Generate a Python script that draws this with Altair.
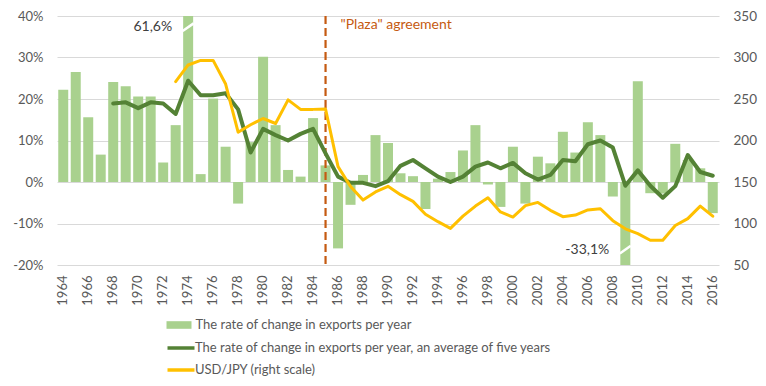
import altair as alt
import pandas as pd

# ---------------- data ----------------
years = list(range(1964, 2017))
export_change = [22.2, 26.5, 15.6, 6.6, 24.1, 23.1, 20.6, 20.6, 4.7, 13.7,
                 61.6, 1.9, 20.1, 8.5, -5.2, 9.6, 30.2, 13.7, 2.9, 1.3,
                 15.4, 4.0, -16.0, -5.5, 1.7, 11.3, 9.4, 2.1, 1.4, -6.5,
                 0.8, 2.4, 7.6, 13.7, -0.6, -6.0, 8.5, -5.2, 6.1, 4.5,
                 12.1, 7.1, 14.4, 11.3, -3.5, -33.1, 24.3, -2.7, -2.8, 9.2,
                 5.3, 3.3, -7.5]

avg_years = list(range(1968, 2017))
avg5 = [18.9, 19.2, 17.8, 19.2, 18.9, 16.4, 24.4, 20.9, 20.9, 21.4,
        17.5, 7.1, 12.8, 11.3, 10.0, 11.6, 12.8, 6.9, 1.3, -0.2,
        -0.2, -1.0, 0.2, 3.9, 5.3, 3.3, 1.3, 0.0, 1.3, 3.7,
        4.7, 3.3, 4.6, 2.1, 0.6, 1.7, 5.3, 5.0, 9.1, 10.0,
        8.3, -0.9, 2.8, -0.9, -3.8, -1.0, 6.5, 2.4, 1.5]

fx_years = list(range(1973, 2017))
usdjpy = [271.0, 291.0, 296.5, 296.5, 268.0, 210.0, 219.0, 226.5, 220.5, 249.0,
          237.5, 237.5, 238.0, 168.5, 144.6, 128.2, 138.0, 144.8, 134.7, 126.7,
          111.2, 102.2, 94.1, 108.8, 121.0, 130.9, 113.9, 107.8, 121.5, 125.4,
          115.9, 108.2, 110.2, 116.3, 117.8, 103.4, 93.6, 87.8, 79.8, 79.8,
          97.6, 105.9, 121.0, 108.8]

bar_label = "The rate of change in exports per year"
avg_label = "The rate of change in exports per year, an average of five years"
fx_label = "USD/JPY (right scale)"

left_ticks = [-20, -10, 0, 10, 20, 30, 40]
right_ticks = [50, 100, 150, 200, 250, 300, 350]

# annotations
break_years = [1974, 2009]
break_pos = [37.3, -16.3]
break_text = ["61,6%", "-33,1%"]
plaza_year = [1985]
plaza_top = [40]
plaza_bottom = [-20]
plaza_text_pos = [37.8]
plaza_text = ['"Plaza" agreement']

# ---------------- styling ----------------
FONT = "Lato"
GREY = "#595959"
BAR_C = "#A9D18E"
AVG_C = "#548235"
FX_C = "#FFC000"
PLAZA_C = "#C55A11"

df_bar = pd.DataFrame({"year": years, "value": export_change, "series": bar_label})
df_avg = pd.DataFrame({"year": avg_years, "value": avg5, "series": avg_label})
df_fx = pd.DataFrame({"year": fx_years, "value": usdjpy, "series": fx_label})
df_break = pd.DataFrame({"year": break_years, "value": break_pos, "text": break_text})
df_plaza = pd.DataFrame({"year": plaza_year, "value": plaza_top, "bottom": plaza_bottom,
                         "tpos": plaza_text_pos, "text": plaza_text})

x_enc = alt.X("year:O",
              scale=alt.Scale(domain=years, paddingInner=0.2, paddingOuter=0.1),
              axis=alt.Axis(values=years[::2], labelAngle=-90, labelAlign="right",
                            labelBaseline="middle", labelPadding=10, ticks=False,
                            domain=False, grid=False, title=None, labelFont=FONT,
                            labelFontSize=13, labelColor=GREY))

left_scale = alt.Scale(domain=[-20, 40], nice=False, zero=False)
left_axis = alt.Axis(values=left_ticks, labelExpr="datum.value + '%'", grid=True,
                     gridColor="#D9D9D9", gridWidth=1, domain=False, ticks=False,
                     labelPadding=14, title=None, orient="left", labelFont=FONT,
                     labelFontSize=13, labelColor=GREY)


def yl(field="value"):
    return alt.Y(f"{field}:Q", scale=left_scale, axis=left_axis)


stroke_scale = alt.Scale(domain=[avg_label, fx_label], range=[AVG_C, FX_C])
stroke_legend = alt.Legend(orient="none", legendX=112, legendY=320, title=None,
                           symbolType="M-1.35,0H1.35", symbolSize=400, symbolStrokeWidth=3.5,
                           rowPadding=3, labelOffset=2, padding=0, labelFont=FONT,
                           labelFontSize=13, labelColor=GREY, labelLimit=600)

bars = alt.Chart(df_bar).mark_bar(clip=True).encode(
    x=x_enc,
    y=yl(),
    fill=alt.Fill("series:N", scale=alt.Scale(domain=[bar_label], range=[BAR_C]),
                  legend=alt.Legend(orient="none", legendX=112, legendY=299, title=None,
                                    symbolType="M-1.25,-0.38H1.25V0.38H-1.25Z", symbolSize=400,
                                    symbolStrokeWidth=0, labelOffset=6.5, padding=0,
                                    labelFont=FONT, labelFontSize=13, labelColor=GREY,
                                    labelLimit=600)),
)

avg_line = alt.Chart(df_avg).mark_line(strokeWidth=4, strokeJoin="round", strokeCap="round").encode(
    x=x_enc,
    y=yl(),
    stroke=alt.Stroke("series:N", scale=stroke_scale, legend=stroke_legend),
)

plaza_rule = alt.Chart(df_plaza).mark_rule(color=PLAZA_C, strokeWidth=2.2,
                                           strokeDash=[8, 4]).encode(
    x=x_enc, y=yl(), y2="bottom:Q")

plaza_lbl = alt.Chart(df_plaza).mark_text(align="left", baseline="middle", dx=15,
                                          font=FONT, fontSize=14, color=PLAZA_C).encode(
    x=x_enc, y=yl("tpos"), text="text:N")

slashes = alt.Chart(df_break).mark_point(shape="M-1,0.7L1,-0.7", size=121, filled=False,
                                         stroke="white", strokeWidth=2.5, opacity=1).encode(
    x=x_enc, y=yl())

break_lbl = alt.Chart(df_break).mark_text(align="right", baseline="middle", dx=-16,
                                          font=FONT, fontSize=14, color="#404040").encode(
    x=x_enc, y=yl(), text="text:N")

left = alt.layer(bars, plaza_rule, plaza_lbl, avg_line, slashes, break_lbl)

fx_line = alt.Chart(df_fx).mark_line(strokeWidth=3, strokeJoin="round", strokeCap="round").encode(
    x=x_enc,
    y=alt.Y("value:Q", scale=alt.Scale(domain=[50, 350], nice=False, zero=False),
            axis=alt.Axis(values=right_ticks, orient="right", grid=False, domain=False,
                          ticks=False, labelPadding=14, title=None, labelFont=FONT,
                          labelFontSize=13.5, labelColor=GREY)),
    stroke=alt.Stroke("series:N", scale=stroke_scale, legend=stroke_legend),
)

chart = alt.layer(left, fx_line).resolve_scale(y="independent").properties(
    width=662, height=249,
    autosize=alt.AutoSizeParams(type="none"),
    padding={"left": 49, "top": 8, "right": 39, "bottom": 113},
    background="white",
).configure_view(stroke=None)

chart.save("out.html", embed_options={"renderer": "svg", "actions": False})
